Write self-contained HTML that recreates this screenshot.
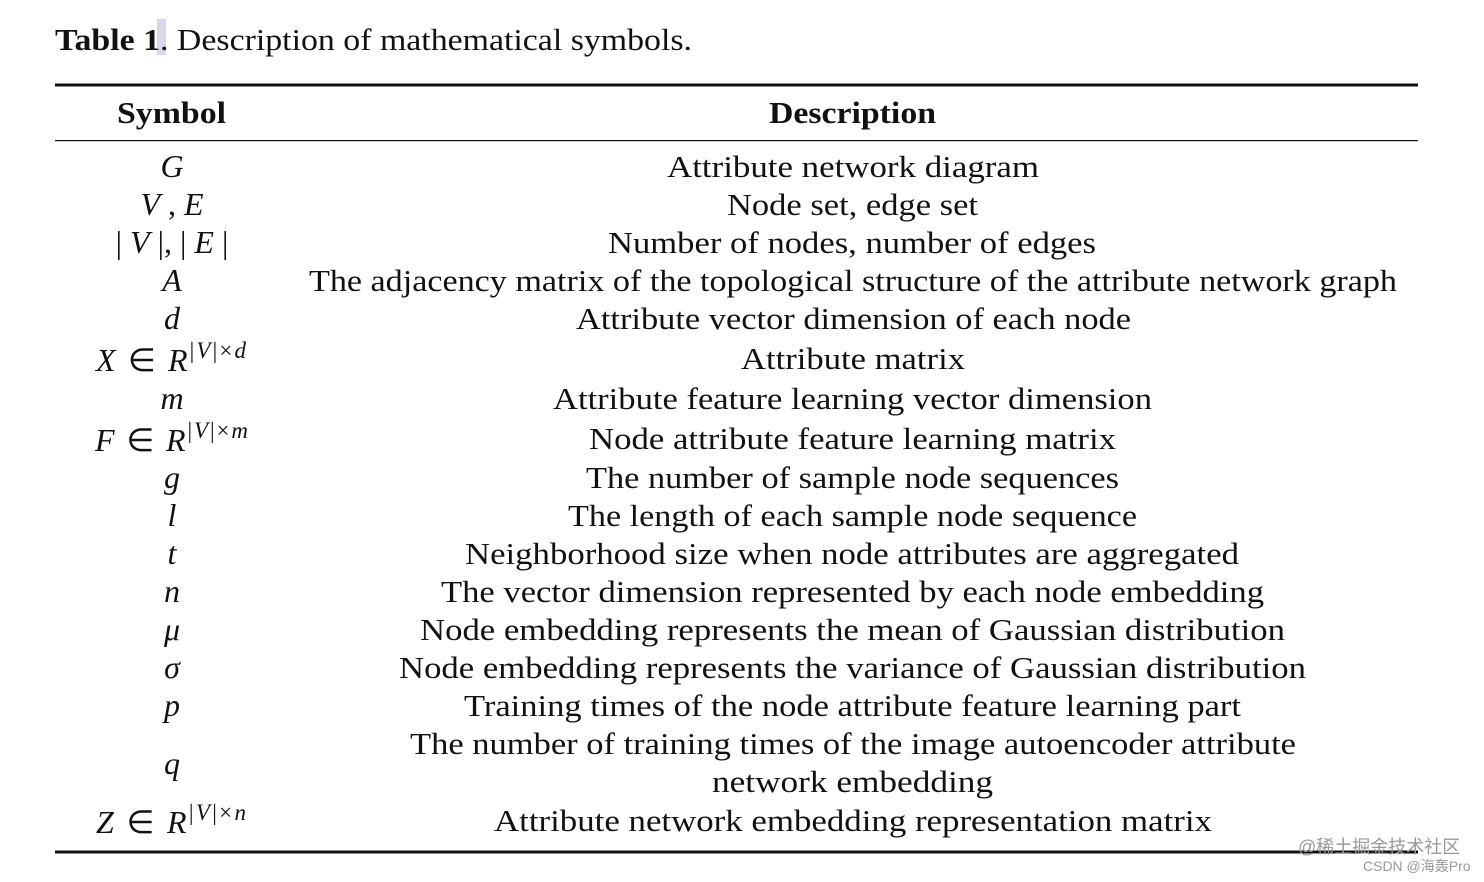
<!DOCTYPE html>
<html><head><meta charset="utf-8"><style>
html,body{margin:0;padding:0;background:#fff;}
svg{display:block;}
text{font-family:"Liberation Serif",serif;fill:#111;}
.d{font-size:31px;}
.s{font-size:32px;font-style:italic;}
.u{font-size:23px;}
</style></head><body>
<svg width="1484" height="882" viewBox="0 0 1484 882" xmlns="http://www.w3.org/2000/svg">
<rect x="157" y="19" width="9" height="36" fill="#d8d8ea"/>
<text x="55" y="50" font-size="31" textLength="637" lengthAdjust="spacingAndGlyphs"><tspan font-weight="bold">Table 1</tspan>. Description of mathematical symbols.</text>
<rect x="55" y="83.5" width="1363" height="3" fill="#111"/>
<rect x="55" y="140" width="1363" height="1.2" fill="#111"/>
<rect x="55" y="850.5" width="1363" height="3" fill="#111"/>
<text x="117" y="123" font-size="31" font-weight="bold" textLength="109" lengthAdjust="spacingAndGlyphs">Symbol</text>
<text x="769" y="123" font-size="31" font-weight="bold" textLength="167" lengthAdjust="spacingAndGlyphs">Description</text>
<text class="d" x="667" y="177" textLength="372" lengthAdjust="spacingAndGlyphs">Attribute network diagram</text>
<text class="d" x="727" y="215" textLength="251" lengthAdjust="spacingAndGlyphs">Node set, edge set</text>
<text class="d" x="608" y="253" textLength="488" lengthAdjust="spacingAndGlyphs">Number of nodes, number of edges</text>
<text class="d" x="309" y="291" textLength="1088" lengthAdjust="spacingAndGlyphs">The adjacency matrix of the topological structure of the attribute network graph</text>
<text class="d" x="576" y="329" textLength="555" lengthAdjust="spacingAndGlyphs">Attribute vector dimension of each node</text>
<text class="d" x="741" y="369" textLength="224" lengthAdjust="spacingAndGlyphs">Attribute matrix</text>
<text class="d" x="553" y="409" textLength="599" lengthAdjust="spacingAndGlyphs">Attribute feature learning vector dimension</text>
<text class="d" x="589" y="449" textLength="527" lengthAdjust="spacingAndGlyphs">Node attribute feature learning matrix</text>
<text class="d" x="586" y="488" textLength="533" lengthAdjust="spacingAndGlyphs">The number of sample node sequences</text>
<text class="d" x="568" y="526" textLength="569" lengthAdjust="spacingAndGlyphs">The length of each sample node sequence</text>
<text class="d" x="465" y="564" textLength="774" lengthAdjust="spacingAndGlyphs">Neighborhood size when node attributes are aggregated</text>
<text class="d" x="441" y="602" textLength="823" lengthAdjust="spacingAndGlyphs">The vector dimension represented by each node embedding</text>
<text class="d" x="420" y="640" textLength="865" lengthAdjust="spacingAndGlyphs">Node embedding represents the mean of Gaussian distribution</text>
<text class="d" x="399" y="678" textLength="907" lengthAdjust="spacingAndGlyphs">Node embedding represents the variance of Gaussian distribution</text>
<text class="d" x="464" y="716" textLength="777" lengthAdjust="spacingAndGlyphs">Training times of the node attribute feature learning part</text>
<text class="d" x="410" y="754" textLength="886" lengthAdjust="spacingAndGlyphs">The number of training times of the image autoencoder attribute</text>
<text class="d" x="712" y="792" textLength="281" lengthAdjust="spacingAndGlyphs">network embedding</text>
<text class="d" x="494" y="831" textLength="718" lengthAdjust="spacingAndGlyphs">Attribute network embedding representation matrix</text>
<g text-anchor="middle">
<text class="s" x="172" y="177">G</text>
<text class="s" x="172" y="215">V<tspan font-style="normal"> ,</tspan> E</text>
<text class="s" x="172" y="253"><tspan font-style="normal">| </tspan>V<tspan font-style="normal"> |, | </tspan>E<tspan font-style="normal"> |</tspan></text>
<text class="s" x="172" y="291">A</text>
<text class="s" x="172" y="329">d</text>
<text class="s" x="172" y="409">m</text>
<text class="s" x="172" y="488">g</text>
<text class="s" x="172" y="526">l</text>
<text class="s" x="172" y="564">t</text>
<text class="s" x="172" y="602">n</text>
<text class="s" x="172" y="640">μ</text>
<text class="s" x="172" y="678">σ</text>
<text class="s" x="172" y="716">p</text>
<text class="s" x="172" y="774">q</text>
</g>
<text class="s" x="96" y="371" textLength="150" lengthAdjust="spacing">X <tspan font-style="normal">∈</tspan> R<tspan class="u" dy="-13" font-style="normal">|</tspan><tspan class="u">V</tspan><tspan class="u" font-style="normal">|×</tspan><tspan class="u">d</tspan></text>
<text class="s" x="95" y="451" textLength="153" lengthAdjust="spacing">F <tspan font-style="normal">∈</tspan> R<tspan class="u" dy="-13" font-style="normal">|</tspan><tspan class="u">V</tspan><tspan class="u" font-style="normal">|×</tspan><tspan class="u">m</tspan></text>
<text class="s" x="96" y="833" textLength="150" lengthAdjust="spacing">Z <tspan font-style="normal">∈</tspan> R<tspan class="u" dy="-13" font-style="normal">|</tspan><tspan class="u">V</tspan><tspan class="u" font-style="normal">|×</tspan><tspan class="u">n</tspan></text>
<text x="1298" y="853" font-size="18" style="fill:#999;font-family:'Liberation Sans','Noto Sans CJK SC',sans-serif">@稀土掘金技术社区</text>
<text x="1363" y="871" font-size="14" style="fill:#999;font-family:'Liberation Sans','Noto Sans CJK SC',sans-serif">CSDN @海轰Pro</text>
</svg>
</body></html>
